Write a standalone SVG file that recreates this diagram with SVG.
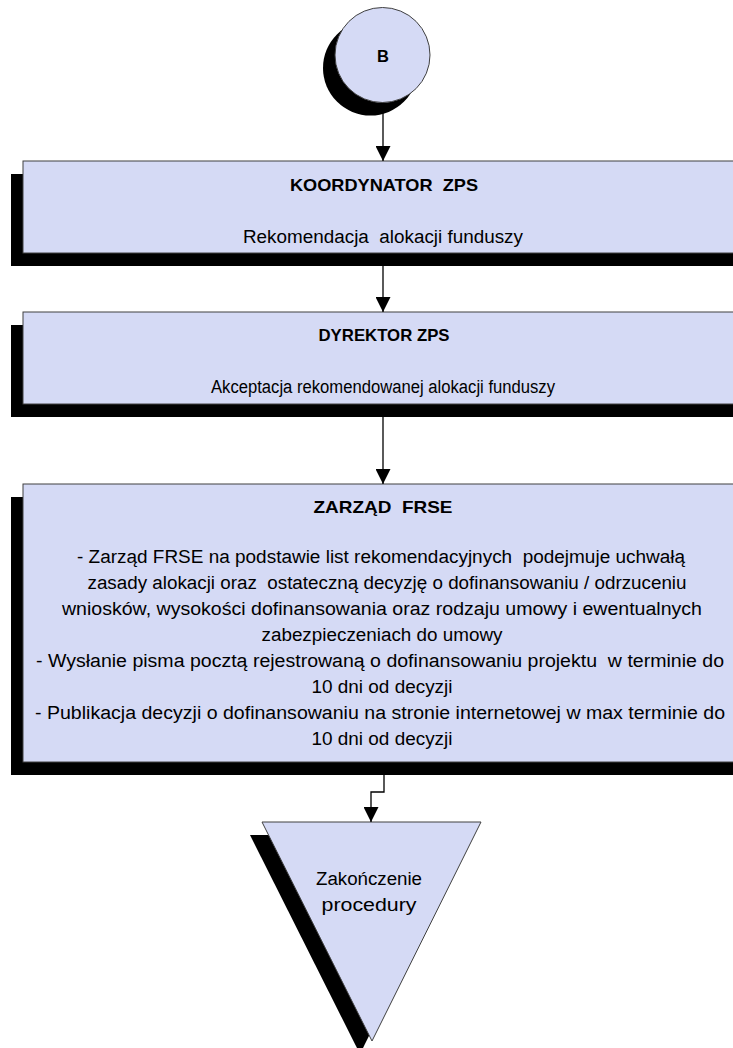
<svg xmlns="http://www.w3.org/2000/svg" width="733" height="1048" viewBox="0 0 733 1048">
  <style>
    .shadow { fill: #000000; }
    .node { fill: #D5DAF5; stroke: #404040; stroke-width: 1; }
    .title { font-family: "Liberation Sans", Arial, sans-serif; font-size: 16.5px; font-weight: bold; fill: #000000; text-anchor: middle; }
    .body { font-family: "Liberation Sans", Arial, sans-serif; font-size: 18px; fill: #000000; text-anchor: middle; }
    .conn { fill: none; stroke: #000000; stroke-width: 1.3; }
  </style>
  <defs>
    <marker id="arrow" markerUnits="userSpaceOnUse" markerWidth="15" markerHeight="15" refX="15" refY="7.5" orient="auto">
      <path d="M0,0 L15,7.5 L0,15 Z" fill="#000000"/>
    </marker>
  </defs>

  <rect width="733" height="1048" fill="#ffffff"/>

  <!-- start connector circle -->
  <g id="node-b">
    <circle class="shadow" cx="370.5" cy="68" r="47.5"/>
    <circle class="node" cx="382.5" cy="55" r="47.5"/>
    <text class="title" x="383" y="62">B</text>
  </g>

  <g id="node-koordynator">
    <rect class="shadow" x="11" y="174" width="722" height="92"/>
    <rect class="node" x="23" y="161" width="722" height="92"/>
    <text class="title" x="384" y="191" textLength="188" lengthAdjust="spacingAndGlyphs" xml:space="preserve">KOORDYNATOR  ZPS</text>
    <text class="body" x="383" y="243" textLength="280" lengthAdjust="spacingAndGlyphs" xml:space="preserve">Rekomendacja  alokacji funduszy</text>
  </g>

  <g id="node-dyrektor">
    <rect class="shadow" x="11" y="325" width="722" height="92"/>
    <rect class="node" x="23" y="312" width="722" height="92"/>
    <text class="title" x="384" y="341" textLength="131" lengthAdjust="spacingAndGlyphs">DYREKTOR ZPS</text>
    <text class="body" x="383" y="393" textLength="344" lengthAdjust="spacingAndGlyphs">Akceptacja rekomendowanej alokacji funduszy</text>
  </g>

  <g id="node-zarzad">
    <rect class="shadow" x="11" y="497" width="722" height="278"/>
    <rect class="node" x="23" y="484" width="722" height="278"/>
    <text class="title" x="383" y="513" textLength="139" lengthAdjust="spacingAndGlyphs" xml:space="preserve">ZARZĄD  FRSE</text>
    <text class="body" x="381" y="563" textLength="608" lengthAdjust="spacingAndGlyphs" xml:space="preserve">- Zarząd FRSE na podstawie list rekomendacyjnych  podejmuje uchwałą</text>
    <text class="body" x="387" y="589" textLength="599" lengthAdjust="spacingAndGlyphs" xml:space="preserve">zasady alokacji oraz  ostateczną decyzję o dofinansowaniu / odrzuceniu</text>
    <text class="body" x="382" y="615" textLength="640" lengthAdjust="spacingAndGlyphs">wniosków, wysokości dofinansowania oraz rodzaju umowy i ewentualnych</text>
    <text class="body" x="382" y="641" textLength="241" lengthAdjust="spacingAndGlyphs">zabezpieczeniach do umowy</text>
    <text class="body" x="380" y="667" textLength="688" lengthAdjust="spacingAndGlyphs" xml:space="preserve">- Wysłanie pisma pocztą rejestrowaną o dofinansowaniu projektu  w terminie do</text>
    <text class="body" x="382" y="693" textLength="141" lengthAdjust="spacingAndGlyphs">10 dni od decyzji</text>
    <text class="body" x="380" y="719" textLength="690" lengthAdjust="spacingAndGlyphs">- Publikacja decyzji o dofinansowaniu na stronie internetowej w max terminie do</text>
    <text class="body" x="382" y="745" textLength="141" lengthAdjust="spacingAndGlyphs">10 dni od decyzji</text>
  </g>

  <g id="node-koniec">
    <polygon class="shadow" points="250,835 469,835 360,1054"/>
    <polygon class="node" points="262,822 481,822 372,1041"/>
    <text class="body" x="369" y="885" textLength="106" lengthAdjust="spacingAndGlyphs">Zakończenie</text>
    <text class="body" x="369" y="911" textLength="95" lengthAdjust="spacingAndGlyphs">procedury</text>
  </g>

  <g id="connectors">
    <path class="conn" d="M383,103 L383,161" marker-end="url(#arrow)"/>
    <path class="conn" d="M383,266 L383,312" marker-end="url(#arrow)"/>
    <path class="conn" d="M383,417 L383,484" marker-end="url(#arrow)"/>
    <path class="conn" d="M384,775 L384,792 L371,792 L371,822" marker-end="url(#arrow)"/>
  </g>
</svg>
